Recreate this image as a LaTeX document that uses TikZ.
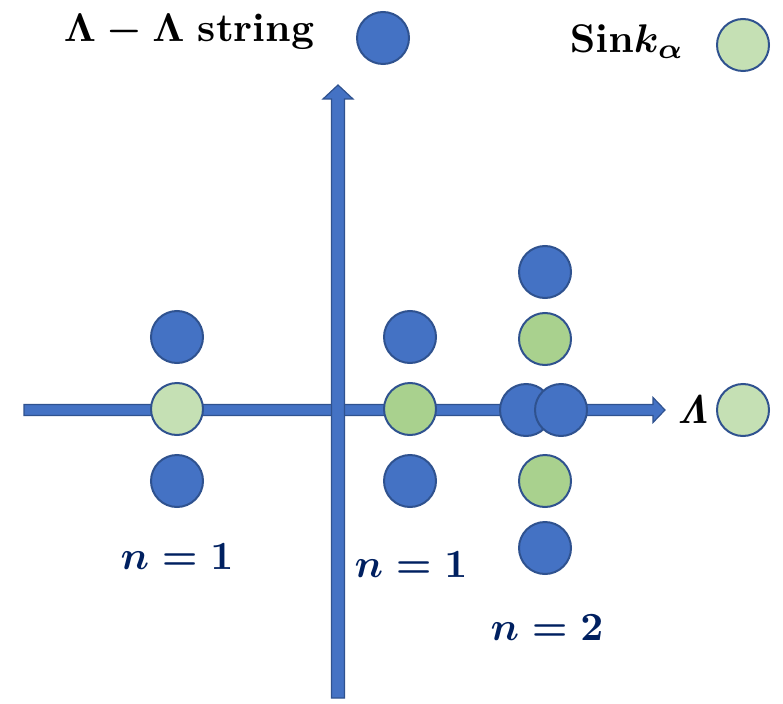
\documentclass[tikz,border=0pt]{standalone}
\usepackage{amsmath}
\definecolor{cblue}{HTML}{4472C4}
\definecolor{cedge}{HTML}{2F528F}
\definecolor{glight}{HTML}{C5E0B4}
\definecolor{gmid}{HTML}{A9D18E}
\definecolor{navy}{HTML}{002060}
\begin{document}
\begin{tikzpicture}[x=1pt,y=-1pt,
  dot/.style={circle,draw=cedge,line width=2pt,minimum size=52pt,inner sep=0pt},
  bdot/.style={dot,fill=cblue},
  ldot/.style={dot,fill=glight},
  mdot/.style={dot,fill=gmid},
  axisbar/.style={fill=cblue,draw=cedge,line width=1.2pt},
  bigtext/.style={font=\fontsize{10}{12}\selectfont\boldmath,inner sep=0pt,scale=4},
  nlab/.style={bigtext,text=navy}]
\useasboundingbox (0,0) rectangle (783,703);
% horizontal axis
\draw[axisbar] (24,404.5) -- (653,404.5) -- (653,397.5) -- (665,410) -- (653,422.5) -- (653,415.5) -- (24,415.5) -- cycle;
% vertical axis
\draw[axisbar] (331.5,698) -- (331.5,99) -- (323,99) -- (338,85) -- (353,99) -- (344.5,99) -- (344.5,698) -- cycle;
% left column
\node[bdot] (l1) at (177,337) {};
\node[ldot] (l2) at (177,409) {};
\node[bdot] (l3) at (177,481) {};
% middle column
\node[bdot] (m1) at (410,337) {};
\node[mdot] (m2) at (410,409) {};
\node[bdot] (m3) at (410,481) {};
% right column
\node[bdot] (r1) at (545,272) {};
\node[mdot] (r2) at (545,339) {};
\node[bdot] (r3a) at (526,410) {};
\node[bdot] (r3b) at (561,410) {};
\node[mdot] (r4) at (545,481) {};
\node[bdot] (r5) at (545,548) {};
% legend
\node[bigtext,anchor=east] (t1) at (315,32) {$\Lambda-\Lambda$ \textbf{string}};
\node[bdot] (lg1) at (383,38) {};
\node[bigtext,anchor=east] (t2) at (685,42) {$\mathrm{Sin}k_\alpha$};
\node[ldot] (lg2) at (743,45) {};
\node[bigtext,anchor=east] (t3) at (710,410) {$\mathit{\Lambda}$};
\node[ldot] (lg3) at (743,410) {};
% labels
\node[nlab] (n1) at (177,557) {$n=1$};
\node[nlab] (n2) at (411,565) {$n=1$};
\node[nlab] (n3) at (547,628) {$n=2$};
\end{tikzpicture}
\end{document}
